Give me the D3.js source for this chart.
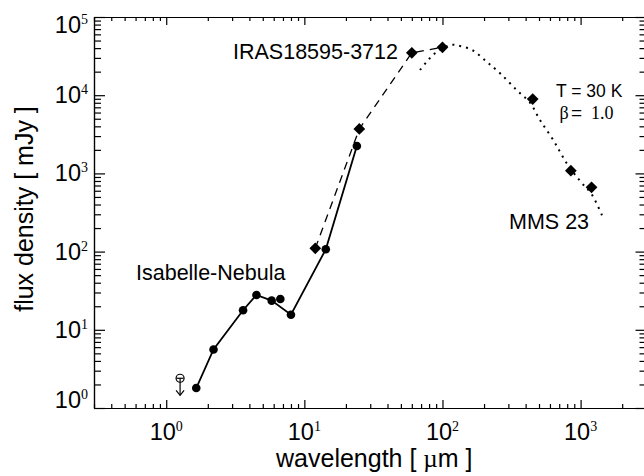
<!DOCTYPE html>
<html lang="en">
<head>
  <meta charset="UTF-8">
  <title>SED of IRAS18595-3712 / MMS 23</title>
  <script src="https://d3js.org/d3.v7.min.js"></script>
  <style>
    body { margin: 0; background: #fff; }
    svg { font-family: "Liberation Sans", Arial, sans-serif; }
    .axis path, .axis line { stroke: #000; stroke-width: 1.2px; }
    .lbl { font-size: 21.5px; fill: #000; }
  </style>
</head>
<body>
  <script>
    // Isabelle-Nebula (connected circles)
    const nebWave = [1.65, 2.2, 3.6, 4.5, 5.8, 8.0, 14.3, 24.0];
    const nebFlux = [1.8, 5.6, 17.8, 27.9, 23.6, 15.6, 107, 2240];
    // loose circle not on the line
    const extraWave = [6.7];
    const extraFlux = [24.8];
    // upper limit
    const limWave = [1.26];
    const limFlux = [2.4];

    // IRAS fluxes (dashed)
    const irasWave = [12, 25, 60, 100];
    const irasFlux = [110, 3700, 34900, 40900];

    // MMS 23 submm points
    const mmsWave = [450, 850, 1200];
    const mmsFlux = [8940, 1083, 664];

    // greybody curve (T = 30 K, beta = 1.0)
    const modelWave = [68.8, 76.9, 88.4, 113.5, 134, 167, 209, 261, 345, 430, 508, 634, 793, 991, 1203, 1459];
    const modelFlux = [21000, 26800, 34400, 43800, 42600, 37100, 26800, 19100, 11600, 8020, 4820, 2670, 1350, 800, 540, 267];

    const xTickExps = [0, 1, 2, 3];
    const yTickExps = [0, 1, 2, 3, 4, 5];

    const width = 644, height = 476;
    const svg = d3.select("body").append("svg")
      .attr("width", width)
      .attr("height", height);

    const x = d3.scaleLog().domain([0.3, 3000]).range([94, 646.5]);
    const y = d3.scaleLog().domain([1, 1e5]).range([408, 17]);

    const xMajor = xTickExps.map(e => Math.pow(10, e));
    const yMajor = yTickExps.map(e => Math.pow(10, e));
    const isMajor = v => Math.abs(Math.log10(v) - Math.round(Math.log10(v))) < 1e-9;
    const xMinor = x.ticks(40).filter(v => !isMajor(v));
    const yMinor = y.ticks(60).filter(v => !isMajor(v));

    // frame + ticks (all pointing inward)
    function addAxis(gen, tr, vals, size) {
      svg.append("g").attr("class", "axis")
        .attr("transform", tr)
        .call(gen.tickValues(vals).tickSize(size).tickSizeOuter(0).tickFormat(""));
    }
    const [x0, x1] = x.range();
    const [yb, yt] = y.range();
    addAxis(d3.axisBottom(x), `translate(0,${yb})`, xMajor, -8);
    addAxis(d3.axisBottom(x), `translate(0,${yb})`, xMinor, -4);
    addAxis(d3.axisTop(x), `translate(0,${yt})`, xMajor, -8);
    addAxis(d3.axisTop(x), `translate(0,${yt})`, xMinor, -4);
    addAxis(d3.axisLeft(y), `translate(${x0},0)`, yMajor, -11);
    addAxis(d3.axisLeft(y), `translate(${x0},0)`, yMinor, -7);
    addAxis(d3.axisRight(y), `translate(${x1},0)`, yMajor, -11);
    addAxis(d3.axisRight(y), `translate(${x1},0)`, yMinor, -7);
    svg.selectAll(".axis .domain").attr("fill", "none");

    // tick labels 10^n
    xTickExps.forEach(e => {
      const t = svg.append("text")
        .attr("x", x(Math.pow(10, e)))
        .attr("y", 440)
        .attr("text-anchor", "middle")
        .style("font-size", "23.5px");
      t.append("tspan").text("10");
      t.append("tspan").attr("dy", -9)
        .style("font-family", "'Liberation Serif', serif")
        .style("font-size", "14px").text(e);
    });
    yTickExps.forEach((e, i) => {
      let off = 8;
      if (i === 0) off = 0;
      if (i === yTickExps.length - 1) off = 16;
      const t = svg.append("text")
        .attr("x", 88)
        .attr("y", y(Math.pow(10, e)) + off)
        .attr("text-anchor", "end")
        .style("font-size", "23.5px");
      t.append("tspan").text("10");
      t.append("tspan").attr("dy", -9)
        .style("font-family", "'Liberation Serif', serif")
        .style("font-size", "14px").text(e);
    });

    // axis titles
    const xt = svg.append("text")
      .attr("x", (x0 + x1) / 2 + 4)
      .attr("y", 467)
      .attr("text-anchor", "middle")
      .style("font-size", "25px");
    xt.append("tspan").text("wavelength [ ");
    xt.append("tspan").style("font-family", "'Liberation Serif', serif").text("\u00b5");
    xt.append("tspan").text("m ]");

    svg.append("text")
      .attr("transform", "translate(33,209) rotate(-90)")
      .attr("text-anchor", "middle")
      .style("font-size", "25px")
      .text("flux density [ mJy ]");

    // lines
    const line = d3.line().x(d => x(d[0])).y(d => y(d[1]));

    svg.append("path")
      .attr("d", line.curve(d3.curveCatmullRom)(d3.zip(modelWave, modelFlux)))
      .attr("fill", "none")
      .attr("stroke", "#000")
      .attr("stroke-width", 2)
      .attr("stroke-dasharray", "2,5");

    const straight = d3.line().x(d => x(d[0])).y(d => y(d[1]));
    svg.append("path")
      .attr("d", straight(d3.zip(irasWave, irasFlux)))
      .attr("fill", "none")
      .attr("stroke", "#000")
      .attr("stroke-width", 1.3)
      .attr("stroke-dasharray", "8,6");

    svg.append("path")
      .attr("d", straight(d3.zip(nebWave, nebFlux)))
      .attr("fill", "none")
      .attr("stroke", "#000")
      .attr("stroke-width", 1.8);

    // markers
    svg.selectAll(".neb")
      .data(d3.zip(nebWave.concat(extraWave), nebFlux.concat(extraFlux)))
      .enter().append("circle")
      .attr("cx", d => x(d[0]))
      .attr("cy", d => y(d[1]))
      .attr("r", 4.3)
      .attr("fill", "#000");

    const diamond = d3.symbol().type(d3.symbolDiamond2).size(88);
    svg.selectAll(".dia")
      .data(d3.zip(irasWave.concat(mmsWave), irasFlux.concat(mmsFlux)))
      .enter().append("path")
      .attr("transform", d => `translate(${x(d[0])},${y(d[1])})`)
      .attr("d", diamond)
      .attr("fill", "#000");

    // upper limit symbol
    limWave.forEach((w, i) => {
      const cx = x(w), cy = y(limFlux[i]);
      const g = svg.append("g").attr("fill", "none").attr("stroke", "#000").attr("stroke-width", 1.2);
      g.append("circle").attr("cx", cx).attr("cy", cy).attr("r", 4);
      g.append("line").attr("x1", cx - 3.5).attr("x2", cx + 3.5).attr("y1", cy).attr("y2", cy);
      g.append("line").attr("x1", cx).attr("x2", cx).attr("y1", cy).attr("y2", cy + 17);
      g.append("path").attr("d", `M${cx - 4},${cy + 12}L${cx},${cy + 17}L${cx + 4},${cy + 12}`);
    });

    // annotations
    svg.append("text").attr("class", "lbl").attr("x", 233).attr("y", 58.5).text("IRAS18595-3712");
    svg.append("text").attr("class", "lbl").attr("x", 136).attr("y", 279.5).text("Isabelle-Nebula");
    svg.append("text").attr("class", "lbl").attr("x", 509).attr("y", 228.5).text("MMS 23");

    svg.append("text")
      .attr("x", 556).attr("y", 96.5)
      .style("font-size", "17.5px")
      .text("T = 30 K");
    const b = svg.append("text").attr("y", 118.5);
    b.append("tspan").attr("x", 559.5)
      .style("font-family", "'Liberation Serif', serif").style("font-size", "18px").text("\u03b2");
    b.append("tspan").attr("x", 571)
      .style("font-size", "19px").text("=");
    b.append("tspan").attr("x", 591)
      .style("font-family", "'Liberation Serif', serif").style("font-size", "18px").text("1.0");
  </script>
</body>
</html>
